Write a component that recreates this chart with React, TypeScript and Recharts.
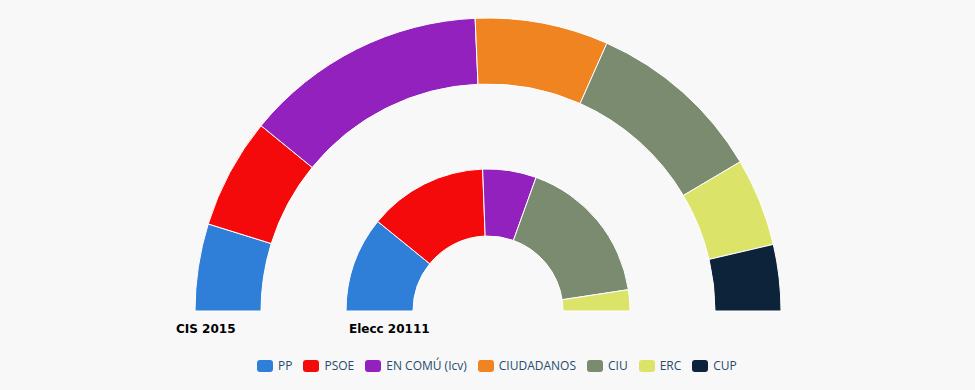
import { PieChart, Pie, Cell, Legend } from "recharts";

const parties = ["PP", "PSOE", "EN COMÚ (Icv)", "CIUDADANOS", "CIU", "ERC", "CUP"];
const colors = ["#2f7ed8", "#f40a0a", "#9321bd", "#f08421", "#7b8b70", "#dbe368", "#0d233a"];
const cis2015 = [9.6, 12.2, 26.8, 14.7, 19.7, 9.7, 7.3];
const elecc2011 = [21.7, 27.1, 12.2, 0, 34.2, 4.8, 0];
const ringLabels = ["CIS 2015", "Elecc 20111"];

const toRows = (values: number[]) =>
  parties
    .map((name, i) => ({ name, value: values[i], color: colors[i] }))
    .filter((d) => d.value > 0);

const outerData = toRows(cis2015);
const innerData = toRows(elecc2011);

function PartyLegend() {
  return (
    <div style={{ display: "flex", alignItems: "center", fontFamily: "'Open Sans', sans-serif", fontSize: 12, color: "#274b6d" }}>
      {parties.map((p, i) => (
        <div key={p} style={{ display: "flex", alignItems: "center", marginRight: 11 }}>
          <span style={{ width: 16, height: 12, borderRadius: 3, background: colors[i], marginRight: 5, display: "inline-block" }} />
          <span>{p}</span>
        </div>
      ))}
    </div>
  );
}

const labelStyle: React.CSSProperties = {
  position: "absolute",
  top: 322,
  fontFamily: "'DejaVu Sans', sans-serif",
  fontWeight: "bold",
  fontSize: 12,
  color: "#000",
};

export default function App() {
  return (
    <div style={{ position: "relative", width: 975, height: 390, background: "#f8f8f8" }}>
      <style>{"body{margin:0;background:#f8f8f8}"}</style>
      <PieChart width={975} height={390} margin={{ top: 0, right: 0, bottom: 0, left: 0 }}>
        <Pie
          data={outerData}
          dataKey="value"
          nameKey="name"
          cx={488}
          cy={311}
          startAngle={180}
          endAngle={0}
          innerRadius={227}
          outerRadius={293}
          stroke="#fff"
          strokeWidth={1}
          isAnimationActive={false}
        >
          {outerData.map((d) => (
            <Cell key={d.name} fill={d.color} />
          ))}
        </Pie>
        <Pie
          data={innerData}
          dataKey="value"
          nameKey="name"
          cx={488}
          cy={311}
          startAngle={180}
          endAngle={0}
          innerRadius={75}
          outerRadius={142}
          stroke="#fff"
          strokeWidth={1}
          isAnimationActive={false}
        >
          {innerData.map((d) => (
            <Cell key={d.name} fill={d.color} />
          ))}
        </Pie>
        <Legend
          content={<PartyLegend />}
          wrapperStyle={{ left: 257, top: 357, width: "auto" }}
        />
      </PieChart>
      <div style={{ ...labelStyle, left: 176 }}>{ringLabels[0]}</div>
      <div style={{ ...labelStyle, left: 349 }}>{ringLabels[1]}</div>
    </div>
  );
}
